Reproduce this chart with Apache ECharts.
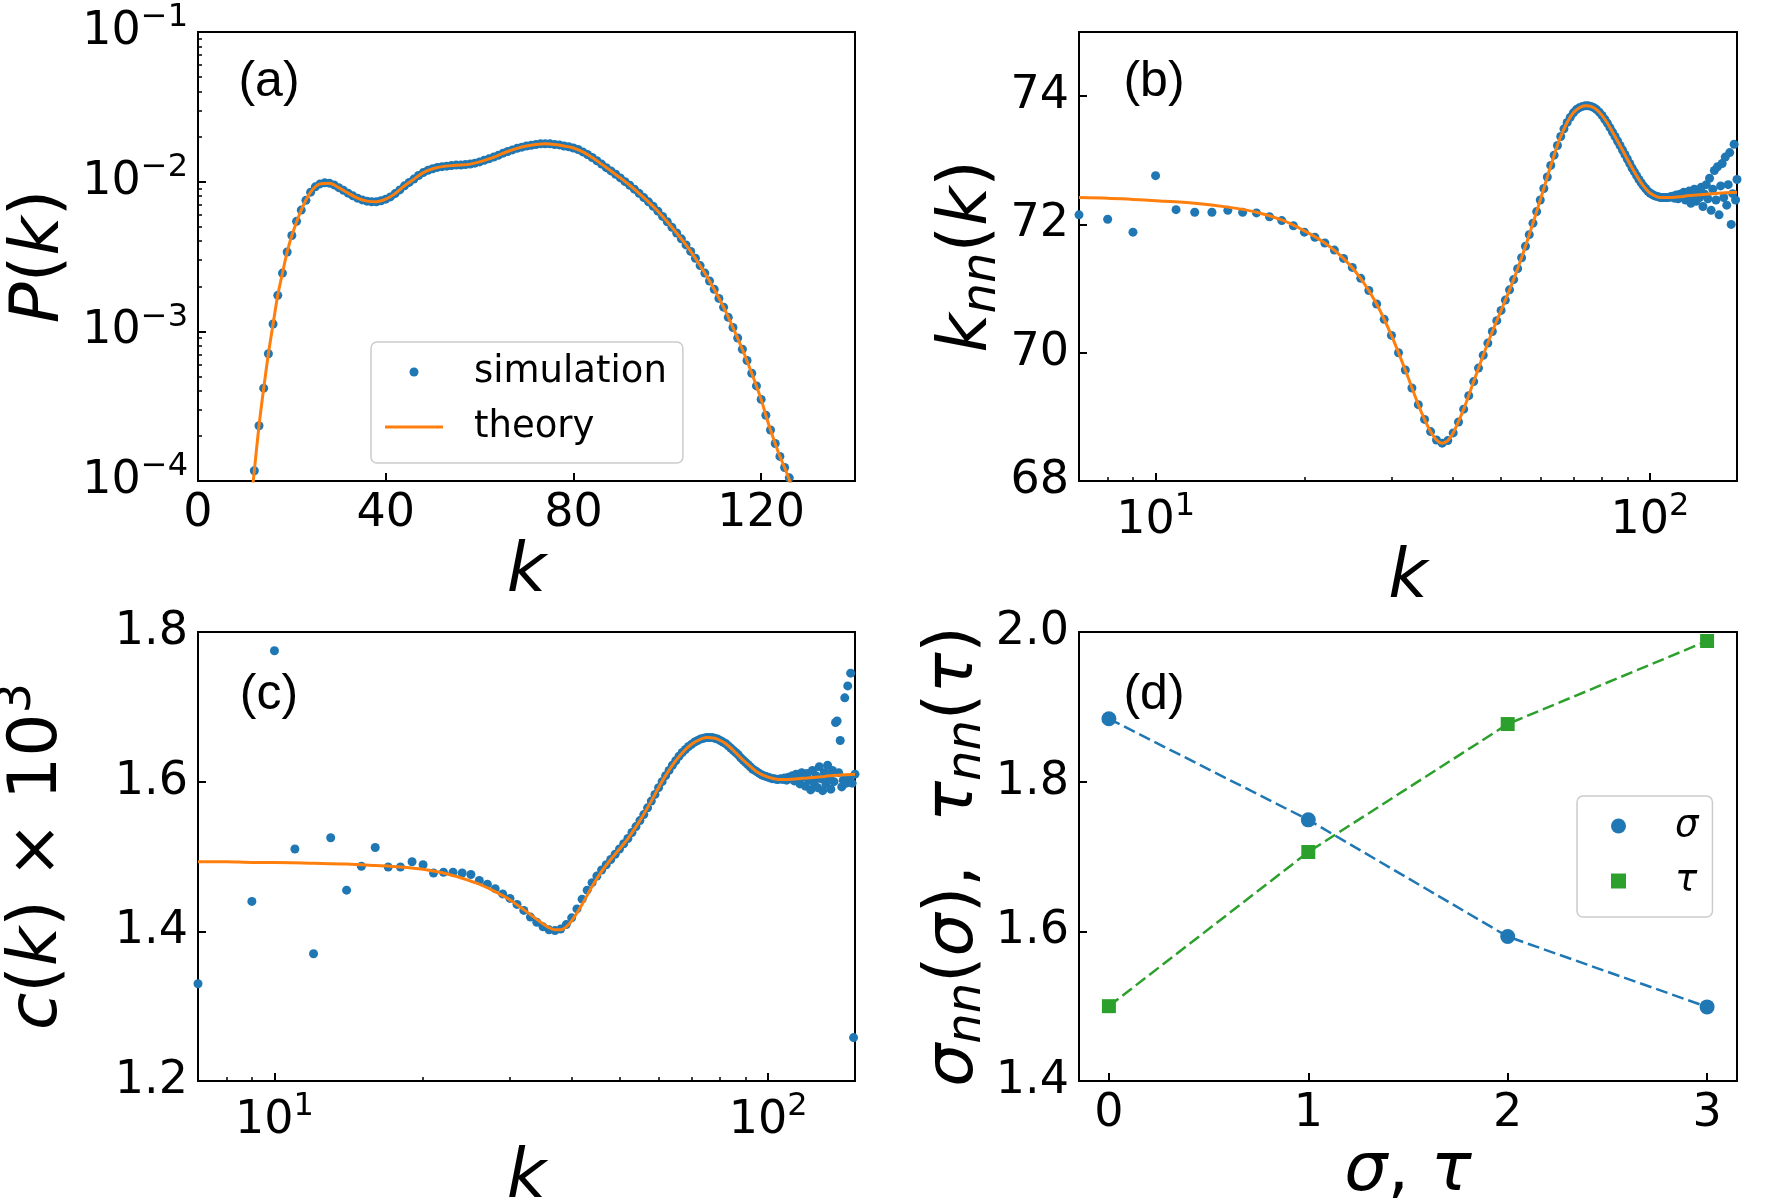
<!DOCTYPE html>
<html>
<head>
<meta charset="utf-8">
<script src="https://cdn.jsdelivr.net/npm/echarts@6.0.0/dist/echarts.min.js"></script>
<style>html,body{margin:0;padding:0;background:#fff;}</style>
</head>
<body>
<div id="main" style="width:1782px;height:1203px;"></div>
<script>
// ---- data ----
// (a) degree distribution, simulation at k = 12..126
var aSimK0 = 12;
var aSimP = [1.17e-4, 2.34e-4, 4.17e-4, 7.08e-4, 1.12e-3, 1.74e-3, 2.45e-3, 3.39e-3, 4.37e-3, 5.43e-3,
  6.46e-3, 7.50e-3, 8.51e-3, 9.23e-3, 9.66e-3, 9.82e-3, 9.77e-3, 9.51e-3, 9.12e-3, 8.75e-3,
  8.38e-3, 8.04e-3, 7.76e-3, 7.55e-3, 7.41e-3, 7.34e-3, 7.34e-3, 7.45e-3, 7.64e-3, 7.91e-3,
  8.32e-3, 8.81e-3, 9.38e-3, 9.89e-3, 1.04e-2, 1.10e-2, 1.15e-2, 1.19e-2, 1.22e-2, 1.245e-2,
  1.26e-2, 1.27e-2, 1.28e-2, 1.29e-2, 1.29e-2, 1.30e-2, 1.31e-2, 1.33e-2, 1.355e-2, 1.39e-2,
  1.42e-2, 1.46e-2, 1.50e-2, 1.55e-2, 1.59e-2, 1.63e-2, 1.67e-2, 1.70e-2, 1.73e-2, 1.75e-2,
  1.77e-2, 1.79e-2, 1.79e-2, 1.79e-2, 1.77e-2, 1.76e-2, 1.73e-2, 1.71e-2, 1.68e-2, 1.64e-2,
  1.58e-2, 1.52e-2, 1.45e-2, 1.38e-2, 1.31e-2, 1.24e-2, 1.18e-2, 1.12e-2, 1.06e-2, 1.00e-2,
  9.46e-3, 8.91e-3, 8.36e-3, 7.83e-3, 7.33e-3, 6.84e-3, 6.35e-3, 5.86e-3, 5.40e-3, 4.95e-3,
  4.54e-3, 4.15e-3, 3.78e-3, 3.42e-3, 3.08e-3, 2.75e-3, 2.45e-3, 2.17e-3, 1.91e-3, 1.66e-3,
  1.45e-3, 1.24e-3, 1.06e-3, 9.02e-4, 7.59e-4, 6.38e-4, 5.25e-4, 4.32e-4, 3.51e-4, 2.75e-4,
  2.19e-4, 1.78e-4, 1.46e-4, 1.23e-4, 1.05e-4];
var aThK = [11, 12, 13, 14, 15, 16, 17, 18, 19, 20, 22, 24, 26, 28, 30, 32, 34, 36, 38, 40, 42, 44, 46, 48, 50,
  52, 54, 56, 58, 60, 62, 64, 66, 68, 70, 72, 74, 76, 78, 80, 82, 84, 86, 88, 90, 92, 94, 96, 98, 100,
  102, 104, 106, 108, 110, 112, 114, 116, 118, 120, 121, 122, 123, 124, 125, 126, 127];
var aThP = [5.9e-5, 1.17e-4, 2.34e-4, 4.17e-4, 7.08e-4, 1.12e-3, 1.74e-3, 2.45e-3, 3.39e-3, 4.37e-3,
  6.46e-3, 8.51e-3, 9.66e-3, 9.77e-3, 9.12e-3, 8.38e-3, 7.76e-3, 7.41e-3, 7.34e-3, 7.64e-3,
  8.32e-3, 9.38e-3, 1.04e-2, 1.15e-2, 1.22e-2, 1.26e-2, 1.28e-2, 1.29e-2, 1.31e-2, 1.355e-2,
  1.42e-2, 1.50e-2, 1.59e-2, 1.67e-2, 1.73e-2, 1.77e-2, 1.79e-2, 1.77e-2, 1.73e-2, 1.68e-2,
  1.58e-2, 1.45e-2, 1.31e-2, 1.18e-2, 1.06e-2, 9.46e-3, 8.36e-3, 7.33e-3, 6.35e-3, 5.40e-3,
  4.54e-3, 3.78e-3, 3.08e-3, 2.45e-3, 1.91e-3, 1.45e-3, 1.06e-3, 7.59e-4, 5.25e-4, 3.51e-4,
  2.75e-4, 2.19e-4, 1.78e-4, 1.46e-4, 1.23e-4, 1.02e-4, 8.3e-5];

// (b) k_nn(k), simulation at k = 7..150
var bSimK0 = 7;
var bSimV = [72.15, 72.08, 71.88, 72.76, 72.23, 72.19, 72.19, 72.22, 72.19, 72.18,
  72.12, 72.06, 71.98, 71.88, 71.80, 71.71, 71.60, 71.47, 71.33, 71.16,
  70.97, 70.76, 70.52, 70.27, 70.00, 69.73, 69.45, 69.19, 68.96, 68.77,
  68.64, 68.59, 68.63, 68.75, 68.92, 69.12, 69.33, 69.55, 69.76, 69.96,
  70.15, 70.33, 70.50, 70.66, 70.82, 70.98, 71.14, 71.31, 71.48, 71.66,
  71.84, 72.02, 72.20, 72.38, 72.56, 72.74, 72.92, 73.08, 73.23, 73.37,
  73.49, 73.59, 73.67, 73.74, 73.79, 73.82, 73.84, 73.85, 73.85, 73.84,
  73.82, 73.79, 73.75, 73.70, 73.64, 73.58, 73.51, 73.44, 73.37, 73.30,
  73.23, 73.16, 73.09, 73.02, 72.95, 72.88, 72.82, 72.76, 72.70, 72.65,
  72.60, 72.56, 72.52, 72.49, 72.47, 72.45, 72.44, 72.43, 72.42, 72.42,
  72.42, 72.42, 72.42, 72.43, 72.44, 72.41, 72.46, 72.40, 72.47, 72.43,
  72.50, 72.38, 72.48, 72.52, 72.33, 72.45, 72.55, 72.36, 72.50, 72.42,
  72.58, 72.28, 72.47, 72.62, 72.40, 72.72, 72.22, 72.55, 72.84, 72.38,
  72.90, 72.15, 72.60, 72.95, 72.42, 73.05, 72.30, 72.62, 73.12, 72.00,
  72.48, 73.25, 72.38, 72.70];
var bThK = [7, 8, 9, 10, 12, 14, 16, 18, 20, 22, 24, 26, 28, 30, 32, 34, 35, 36, 37, 38, 39, 40, 42, 44, 46,
  48, 50, 52, 54, 56, 58, 60, 62, 64, 66, 68, 70, 72, 74, 76, 78, 80, 82, 85, 88, 91, 94, 97, 100,
  105, 110, 115, 120, 130, 140, 150];
var bThV = [72.42, 72.41, 72.39, 72.37, 72.33, 72.27, 72.19, 72.07, 71.90, 71.71, 71.47, 71.16, 70.76,
  70.27, 69.73, 69.19, 68.96, 68.77, 68.64, 68.59, 68.63, 68.75, 69.12, 69.55, 69.96, 70.33, 70.66,
  70.98, 71.31, 71.66, 72.02, 72.38, 72.74, 73.08, 73.37, 73.59, 73.74, 73.82, 73.85, 73.84, 73.79,
  73.70, 73.58, 73.37, 73.16, 72.95, 72.76, 72.60, 72.49, 72.42, 72.42, 72.43, 72.45, 72.47, 72.49, 72.50];

// (c) clustering c(k) x 10^3, simulation at k = 7..150 (null = off the axes)
var cSimK0 = 7;
var cSimV = [1.33, null, 1.44, 1.775, 1.51, 1.37, 1.525, 1.455, 1.487, 1.512,
  1.486, 1.486, 1.493, 1.489, 1.478, 1.479, 1.479, 1.478, 1.476, 1.468,
  1.463, 1.457, 1.450, 1.444, 1.436, 1.428, 1.419, 1.412, 1.406, 1.402,
  1.401, 1.403, 1.409, 1.418, 1.430, 1.443, 1.455, 1.465, 1.474, 1.482,
  1.489, 1.496, 1.503, 1.510, 1.517, 1.524, 1.532, 1.540, 1.548, 1.556,
  1.565, 1.574, 1.583, 1.592, 1.600, 1.608, 1.615, 1.622, 1.628, 1.634,
  1.639, 1.643, 1.647, 1.650, 1.653, 1.655, 1.657, 1.658, 1.659, 1.659,
  1.659, 1.658, 1.657, 1.655, 1.653, 1.651, 1.648, 1.645, 1.642, 1.639,
  1.636, 1.632, 1.629, 1.626, 1.623, 1.620, 1.617, 1.615, 1.613, 1.611,
  1.609, 1.608, 1.607, 1.606, 1.605, 1.604, 1.604, 1.603, 1.603, 1.604,
  1.603, 1.605, 1.602, 1.606, 1.604, 1.608, 1.601, 1.610, 1.603, 1.597,
  1.612, 1.606, 1.594, 1.611, 1.602, 1.589, 1.615, 1.598, 1.608, 1.592,
  1.620, 1.604, 1.588, 1.612, 1.597, 1.622, 1.606, 1.590, 1.615, 1.600,
  1.679, 1.681, 1.612, 1.655, 1.593, 1.602, 1.712, 1.598, 1.728, 1.605,
  1.745, 1.598, 1.258, 1.610];
var cThK = [7, 8, 9, 10, 12, 14, 16, 18, 20, 22, 24, 26, 28, 30, 32, 34, 35, 36, 37, 38, 39, 40, 42, 44, 46,
  48, 50, 52, 55, 58, 60, 62, 65, 68, 70, 72, 75, 78, 80, 82, 85, 88, 90, 95, 100, 105, 110, 115, 120,
  130, 140, 150];
var cThV = [1.493, 1.493, 1.492, 1.492, 1.491, 1.490, 1.488, 1.486, 1.483, 1.478, 1.471, 1.463, 1.453,
  1.442, 1.429, 1.416, 1.410, 1.405, 1.402, 1.402, 1.406, 1.414, 1.436, 1.460, 1.480, 1.496, 1.510,
  1.524, 1.548, 1.574, 1.592, 1.608, 1.628, 1.643, 1.650, 1.655, 1.659, 1.658, 1.655, 1.651, 1.642,
  1.632, 1.626, 1.613, 1.606, 1.603, 1.603, 1.604, 1.605, 1.607, 1.609, 1.610];

// (d)
var dX = [0, 1, 2, 3];
var sigmaNN = [1.884, 1.749, 1.593, 1.499];
var tauNN = [1.500, 1.706, 1.877, 1.988];

// tick positions
var aXTicks = [0, 40, 80, 120];
var aYTicks = [1e-4, 1e-3, 1e-2, 1e-1];
var aYMinor = [2e-4, 3e-4, 4e-4, 5e-4, 6e-4, 7e-4, 8e-4, 9e-4, 2e-3, 3e-3, 4e-3, 5e-3, 6e-3, 7e-3, 8e-3, 9e-3,
  2e-2, 3e-2, 4e-2, 5e-2, 6e-2, 7e-2, 8e-2, 9e-2];
var logXTicks = [10, 100];
var logXMinor = [8, 9, 20, 30, 40, 50, 60, 70, 80, 90];
var bYTicks = [68, 70, 72, 74];
var cYTicks = [1.2, 1.4, 1.6, 1.8];
var dXTicks = [0, 1, 2, 3];
var dYTicks = [1.4, 1.6, 1.8, 2.0];

// ---- helpers ----
var FONT = 'DejaVu Sans';
var BLUE = '#1f77b4', ORANGE = '#ff7f0e', GREEN = '#2ca02c';
var TICK_FS = 46, NAME_FS = 68, SMALL_FS = 48;

function pairs(xs, ys) { return xs.map(function (x, i) { return [x, ys[i]]; }); }
function fromStart(k0, ys) { return ys.map(function (y, i) { return [k0 + i, y]; }); }

function powLabel(v) {
  var e = Math.round(Math.log10(v));
  return '{b|10}{s|' + (e < 0 ? '\u2212' + (-e) : e) + '}';
}
var tickRich = {
  b: { fontFamily: FONT, fontSize: TICK_FS, color: '#000' },
  s: { fontFamily: FONT, fontSize: 32, color: '#000', padding: [0, 0, 28, 0] }
};
var nameRich = {
  i: { fontFamily: FONT, fontSize: NAME_FS, fontStyle: 'italic', color: '#000' },
  n: { fontFamily: FONT, fontSize: NAME_FS, color: '#000' },
  sub: { fontFamily: FONT, fontSize: SMALL_FS, fontStyle: 'italic', color: '#000', padding: [28, 0, 0, 0] },
  sup: { fontFamily: FONT, fontSize: SMALL_FS, color: '#000', padding: [0, 0, 40, 0] }
};

function majorTick(vals) {
  return { show: true, inside: true, length: 8, lineStyle: { color: '#000', width: 2 }, customValues: vals };
}
function minorTick(vals) {
  return { show: true, inside: true, length: 4, lineStyle: { color: '#000', width: 1.5 }, customValues: vals };
}
function labelStyle(vals, fmt) {
  return { show: true, margin: 10, color: '#000', fontFamily: FONT, fontSize: TICK_FS,
    customValues: vals, formatter: fmt, rich: tickRich };
}

function ax(o) {
  var base = { axisLine: { show: false, onZero: false }, splitLine: { show: false }, nameLocation: 'middle',
    nameTextStyle: { rich: nameRich } };
  for (var k in o) base[k] = o[k];
  return base;
}
function minorAx(o) {
  var base = { axisLine: { show: false, onZero: false }, axisLabel: { show: false }, splitLine: { show: false } };
  for (var k in o) base[k] = o[k];
  return base;
}

var fix1 = function (v) { return v.toFixed(1); };
var plain = function (v) { return String(v); };

var chart = echarts.init(document.getElementById('main'));

var gridStyle = { show: true, borderColor: '#000', borderWidth: 2, backgroundColor: 'transparent',
  containLabel: false, outerBoundsMode: 'none' };
function g(l, t, w, h) {
  return Object.assign({ left: l, top: t, width: w, height: h }, gridStyle);
}
var panelFont = '50px "Liberation Sans"';
function panelLabel(txt, x, y) {
  return { type: 'text', x: x, y: y, style: { text: txt, font: panelFont, fill: '#000', align: 'center', verticalAlign: 'middle' } };
}

var option = {
  animation: false,
  backgroundColor: '#fff',
  grid: [g(198, 32, 657, 449), g(1079, 32, 658, 449), g(198, 632, 657, 449), g(1079, 632, 658, 449)],
  xAxis: [
    ax({ type: 'value', gridIndex: 0, min: 0, max: 140, position: 'bottom',
      axisTick: majorTick(aXTicks), axisLabel: labelStyle(aXTicks, plain),
      name: '{i|k}', nameGap: 58 }),
    ax({ type: 'log', gridIndex: 1, min: 7, max: 150, position: 'bottom',
      axisTick: majorTick(logXTicks), axisLabel: labelStyle(logXTicks, powLabel),
      name: '{i|k}', nameGap: 58 }),
    minorAx({ type: 'log', gridIndex: 1, min: 7, max: 150, position: 'bottom', axisTick: minorTick(logXMinor) }),
    ax({ type: 'log', gridIndex: 2, min: 7, max: 150, position: 'bottom',
      axisTick: majorTick(logXTicks), axisLabel: labelStyle(logXTicks, powLabel),
      name: '{i|k}', nameGap: 58 }),
    minorAx({ type: 'log', gridIndex: 2, min: 7, max: 150, position: 'bottom', axisTick: minorTick(logXMinor) }),
    ax({ type: 'value', gridIndex: 3, min: -0.15, max: 3.15, position: 'bottom',
      axisTick: majorTick(dXTicks), axisLabel: labelStyle(dXTicks, plain),
      name: '{i|\u03c3}{n|, }{i|\u03c4}', nameGap: 56 })
  ],
  yAxis: [
    ax({ type: 'log', gridIndex: 0, min: 1e-4, max: 1e-1, position: 'left',
      axisTick: majorTick(aYTicks), axisLabel: labelStyle(aYTicks, powLabel),
      name: '{i|P}{n|(}{i|k}{n|)}', nameRotate: 90, nameGap: 124 }),
    minorAx({ type: 'log', gridIndex: 0, min: 1e-4, max: 1e-1, position: 'left', axisTick: minorTick(aYMinor) }),
    ax({ type: 'value', gridIndex: 1, min: 68, max: 75, position: 'left',
      axisTick: majorTick(bYTicks), axisLabel: labelStyle(bYTicks, plain),
      name: '{i|k}{sub|nn}{n|(}{i|k}{n|)}', nameRotate: 90, nameGap: 68 }),
    ax({ type: 'value', gridIndex: 2, min: 1.2, max: 1.8, position: 'left',
      axisTick: majorTick(cYTicks), axisLabel: labelStyle(cYTicks, fix1),
      name: '{i|c}{n|(}{i|k}{n|) \u00d7 10}{sup|3}', nameRotate: 90, nameGap: 116 }),
    ax({ type: 'value', gridIndex: 3, min: 1.4, max: 2.0, position: 'left',
      axisTick: majorTick(dYTicks), axisLabel: labelStyle(dYTicks, fix1),
      name: '{i|\u03c3}{sub|nn}{n|(}{i|\u03c3}{n|),  }{i|\u03c4}{sub|nn}{n|(}{i|\u03c4}{n|)}', nameRotate: 90, nameGap: 80 })
  ],
  legend: [
    { data: [{ name: 'simulation', icon: 'circle' }, { name: 'theory', icon: 'path://M0,0H58V3H0Z' }],
      orient: 'vertical', left: 371, top: 342,
      itemWidth: 58, itemHeight: 9, itemGap: 15, padding: [10, 16, 16, 14],
      backgroundColor: '#fff', borderColor: '#cccccc', borderWidth: 1.5, borderRadius: 6,
      selectedMode: false,
      textStyle: { fontFamily: FONT, fontSize: 37, color: '#000', lineHeight: 40, padding: [0, 0, 0, 26] } },
    { data: [{ name: '\u03c3', icon: 'circle' }, { name: '\u03c4', icon: 'path://M0,0H10V10H0Z' }], orient: 'vertical',
      left: 1577, top: 796, itemWidth: 15, itemHeight: 15, itemGap: 15, padding: [10, 14, 16, 34],
      backgroundColor: '#fff', borderColor: '#cccccc', borderWidth: 1.5, borderRadius: 6,
      selectedMode: false,
      textStyle: { fontFamily: FONT, fontSize: 37, fontStyle: 'italic', color: '#000', lineHeight: 40, padding: [0, 0, 0, 44] } }
  ],
  graphic: [
    panelLabel('(a)', 269, 82), panelLabel('(b)', 1154, 82),
    panelLabel('(c)', 269, 695), panelLabel('(d)', 1154, 695)
  ],
  series: [
    { name: 'simulation', type: 'scatter', xAxisIndex: 0, yAxisIndex: 0, symbolSize: 9,
      itemStyle: { color: BLUE, opacity: 1 }, data: fromStart(aSimK0, aSimP) },
    { name: 'theory', type: 'line', xAxisIndex: 0, yAxisIndex: 0, symbol: 'none', smooth: 0.3,
      lineStyle: { color: ORANGE, width: 3 }, itemStyle: { color: ORANGE }, data: pairs(aThK, aThP) },
    { name: 'sim b', type: 'scatter', xAxisIndex: 1, yAxisIndex: 2, symbolSize: 9,
      itemStyle: { color: BLUE, opacity: 1 }, data: fromStart(bSimK0, bSimV) },
    { name: 'theory b', type: 'line', xAxisIndex: 1, yAxisIndex: 2, symbol: 'none', smooth: 0.3,
      lineStyle: { color: ORANGE, width: 3 }, data: pairs(bThK, bThV) },
    { name: 'sim c', type: 'scatter', xAxisIndex: 3, yAxisIndex: 3, symbolSize: 9,
      itemStyle: { color: BLUE, opacity: 1 }, data: fromStart(cSimK0, cSimV).filter(function (p) { return p[1] !== null; }) },
    { name: 'theory c', type: 'line', xAxisIndex: 3, yAxisIndex: 3, symbol: 'none', smooth: 0.3,
      lineStyle: { color: ORANGE, width: 3 }, data: pairs(cThK, cThV) },
    { name: '\u03c3', type: 'line', xAxisIndex: 5, yAxisIndex: 4, symbol: 'circle', symbolSize: 15,
      itemStyle: { color: BLUE }, lineStyle: { color: BLUE, width: 2.5, type: [12, 5] }, data: pairs(dX, sigmaNN) },
    { name: '\u03c4', type: 'line', xAxisIndex: 5, yAxisIndex: 4, symbol: 'rect', symbolSize: 14,
      itemStyle: { color: GREEN }, lineStyle: { color: GREEN, width: 2.5, type: [12, 5] }, data: pairs(dX, tauNN) }
  ]
};

chart.setOption(option);
</script>
</body>
</html>
